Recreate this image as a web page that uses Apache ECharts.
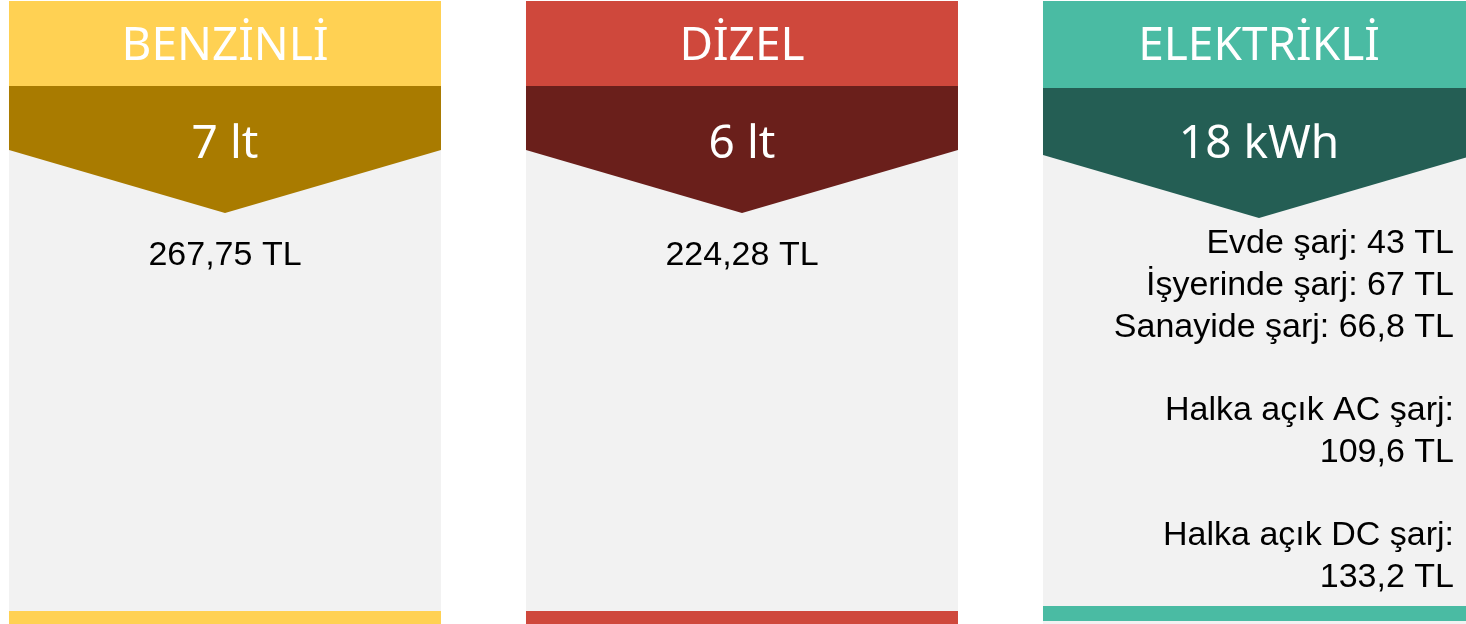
<!DOCTYPE html>
<html>
<head>
<meta charset="utf-8">
<script src="https://cdn.jsdelivr.net/npm/echarts@6/dist/echarts.min.js"></script>
<style>
html,body{margin:0;padding:0;background:#fff;}
#main{width:1466px;height:624px;}
</style>
</head>
<body>
<div id="main"></div>
<script>
// yakit tipleri ve degerler
var fuelTypes = ['BENZİNLİ', 'DİZEL', 'ELEKTRİKLİ'];
var amounts = ['7 lt', '6 lt', '18 kWh'];
var costLines = [
    ['267,75 TL'],
    ['224,28 TL'],
    ['Evde şarj: 43 TL', 'İşyerinde şarj: 67 TL', 'Sanayide şarj: 66,8 TL', '',
     'Halka açık AC şarj:', '109,6 TL', '',
     'Halka açık DC şarj:', '133,2 TL']
];
var lightColors = ['#FFD153', '#CF483C', '#4ABBA3'];
var darkColors = ['#A97B00', '#6A1F1B', '#245E54'];

// panel olculeri (px)
var halfW = 216;
var headBottom = [86, 86, 88];
var bandEdge = [150, 150, 155];
var tipY = [213, 213, 218];
var barTop = [611, 611, 606];
var barBottom = [624, 624, 621];
var firstLineY = [256, 256, 244];
var lineStep = 41.7;

var renderPanel = function (params, api) {
    var i = params.dataIndex;
    var cx = api.coord([api.value(0), 0])[0];
    var l = cx - halfW, r = cx + halfW;
    var kids = [];
    kids.push({type: 'rect', shape: {x: l, y: 1, width: 2 * halfW, height: 623}, style: {fill: '#F2F2F2'}});
    kids.push({type: 'rect', shape: {x: l, y: 1, width: 2 * halfW, height: headBottom[i] - 1}, style: {fill: lightColors[i]}});
    kids.push({type: 'polygon', shape: {points: [[l, headBottom[i]], [r, headBottom[i]], [r, bandEdge[i]], [cx, tipY[i]], [l, bandEdge[i]]]}, style: {fill: darkColors[i]}});
    kids.push({type: 'rect', shape: {x: l, y: barTop[i], width: 2 * halfW, height: barBottom[i] - barTop[i]}, style: {fill: lightColors[i]}});
    kids.push({type: 'text', style: {text: fuelTypes[i], x: cx, y: 47, fill: '#fff', font: '46px "Noto Sans"', align: 'center', verticalAlign: 'middle'}});
    kids.push({type: 'text', style: {text: amounts[i], x: cx, y: 145, fill: '#fff', font: '46px "Noto Sans"', align: 'center', verticalAlign: 'middle'}});
    var lines = costLines[i];
    for (var k = 0; k < lines.length; k++) {
        if (!lines[k]) continue;
        kids.push({type: 'text', style: {
            text: lines[k],
            x: i === 2 ? 1454 : cx,
            y: firstLineY[i] + k * lineStep,
            fill: '#000',
            font: '34px "Liberation Sans"',
            align: i === 2 ? 'right' : 'center',
            verticalAlign: 'middle'
        }});
    }
    return {type: 'group', children: kids};
};

var myChart = echarts.init(document.getElementById('main'));
myChart.setOption({
    animation: false,
    grid: {left: 0, right: 0, top: 0, bottom: 0},
    xAxis: {type: 'value', min: -0.4352, max: 2.4004, show: false},
    yAxis: {type: 'value', min: 0, max: 1, show: false},
    series: [{
        type: 'custom',
        clip: false,
        data: fuelTypes.map(function (f, idx) { return [idx, 0]; }),
        renderItem: renderPanel
    }]
});
</script>
</body>
</html>
